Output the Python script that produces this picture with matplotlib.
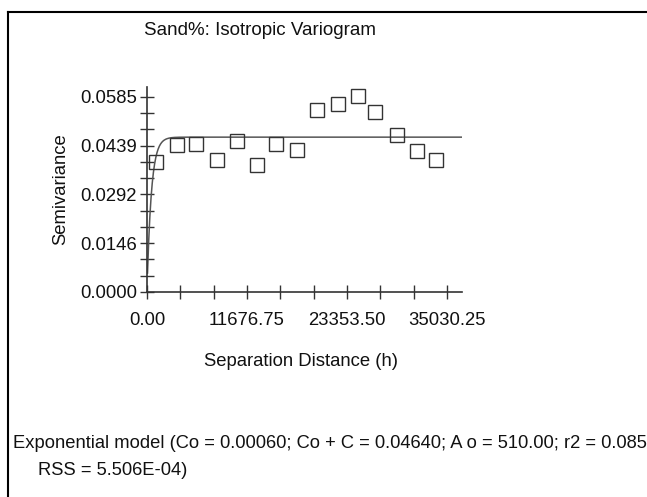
import numpy as np
import matplotlib
matplotlib.use("Agg")
import matplotlib.pyplot as plt
from matplotlib.lines import Line2D
from matplotlib.ticker import FixedLocator, NullFormatter

# ---- data ----
lag_distance = [1051, 3468, 5687, 8139, 10544, 12809, 15063, 17480,
                19886, 22337, 24603, 26623, 29227, 31491, 33711]
semivariance = [0.03888, 0.04419, 0.04440, 0.03969, 0.04539, 0.03819,
                0.04440, 0.04248, 0.05439, 0.05619, 0.05868, 0.05388,
                0.04719, 0.04239, 0.03948]

# exponential model parameters (from the caption)
nugget = 0.00060
sill = 0.04640
range_a0 = 510.0

x_major = [0.0, 11676.75, 23353.50, 35030.25]
x_major_labels = ["0.00", "11676.75", "23353.50", "35030.25"]
y_major = [0.0, 0.014625, 0.02925, 0.043875, 0.0585]
y_major_labels = ["0.0000", "0.0146", "0.0292", "0.0439", "0.0585"]

title = "Sand%: Isotropic Variogram"
xlabel = "Separation Distance (h)"
ylabel = "Semivariance"
caption1 = "Exponential model (Co = 0.00060; Co + C = 0.04640; A o = 510.00; r2 = 0.085"
caption2 = "RSS = 5.506E-04)"

# ---- figure ----
W, H = 647, 497
fig = plt.figure(figsize=(W / 100, H / 100), dpi=100)
fig.patch.set_facecolor("white")

font = ["Liberation Sans", "DejaVu Sans"]
FS = 13.3

L, R, B, T = 147, 462, 292, 87
ax = fig.add_axes([L / W, 1 - B / H, (R - L) / W, (B - T) / H])

xmax = x_major[-1] * 1.05
ymax = y_major[-1] * 1.05
ax.set_xlim(0, xmax)
ax.set_ylim(0, ymax)

# model curve
h = np.linspace(60, xmax, 800)
gamma = nugget + (sill - nugget) * (1 - np.exp(-h / range_a0))
ax.plot(h, gamma, color="#555555", lw=1.1, zorder=2)

# experimental semivariogram
ax.plot(lag_distance, semivariance, ls="none", marker="s", markersize=10.3,
        markerfacecolor="none", markeredgecolor="#333333", markeredgewidth=1.0,
        zorder=3)

for s in ["top", "right"]:
    ax.spines[s].set_visible(False)
for s in ["left", "bottom"]:
    ax.spines[s].set_color("#333333")
    ax.spines[s].set_linewidth(1.2)

x_step = x_major[1] / 3
y_step = y_major[1] / 3
ax.xaxis.set_major_locator(FixedLocator(x_major))
ax.xaxis.set_minor_locator(FixedLocator([i * x_step for i in range(10) if i % 3]))
ax.yaxis.set_major_locator(FixedLocator(y_major))
ax.yaxis.set_minor_locator(FixedLocator([i * y_step for i in range(13) if i % 3]))
ax.set_xticklabels(x_major_labels)
ax.set_yticklabels(y_major_labels)
ax.xaxis.set_minor_formatter(NullFormatter())
ax.yaxis.set_minor_formatter(NullFormatter())

ax.tick_params(axis="both", which="both", direction="inout", length=10,
               width=1.0, color="#333333")
ax.tick_params(axis="x", which="major", pad=9.4)
ax.tick_params(axis="y", which="major", pad=2.2)
for lab in ax.get_xticklabels() + ax.get_yticklabels():
    lab.set_family(font)
    lab.set_fontsize(FS)
    lab.set_color("#111111")

ax.set_xlabel(xlabel, family=font, fontsize=FS, color="#111111")
ax.xaxis.set_label_coords((301.5 - L) / (R - L), -(353 - B) / (B - T))
ax.xaxis.label.set_va("top")
ax.set_ylabel(ylabel, family=font, fontsize=FS, color="#111111")
ax.yaxis.set_label_coords((69 - L) / (R - L), (B - 189) / (B - T))

fig.text(260.5 / W, 1 - 35 / H, title, ha="center", va="baseline",
         family=font, fontsize=13.5, color="#111111")

fig.text(12.7 / W, 1 - 448 / H, caption1, ha="left", va="baseline",
         family=font, fontsize=13.2, color="#111111")
fig.text(38 / W, 1 - 475 / H, caption2, ha="left", va="baseline",
         family=font, fontsize=13.2, color="#111111")

# outer frame (runs off the right and bottom edges)
fx, fy = 8 / W, 1 - 11.7 / H
fig.add_artist(Line2D([fx, 1.01], [fy, fy], transform=fig.transFigure,
                      color="black", lw=1.5))
fig.add_artist(Line2D([fx, fx], [fy, -0.01], transform=fig.transFigure,
                      color="black", lw=1.5))

fig.savefig("out.png", dpi=100, facecolor="white")
